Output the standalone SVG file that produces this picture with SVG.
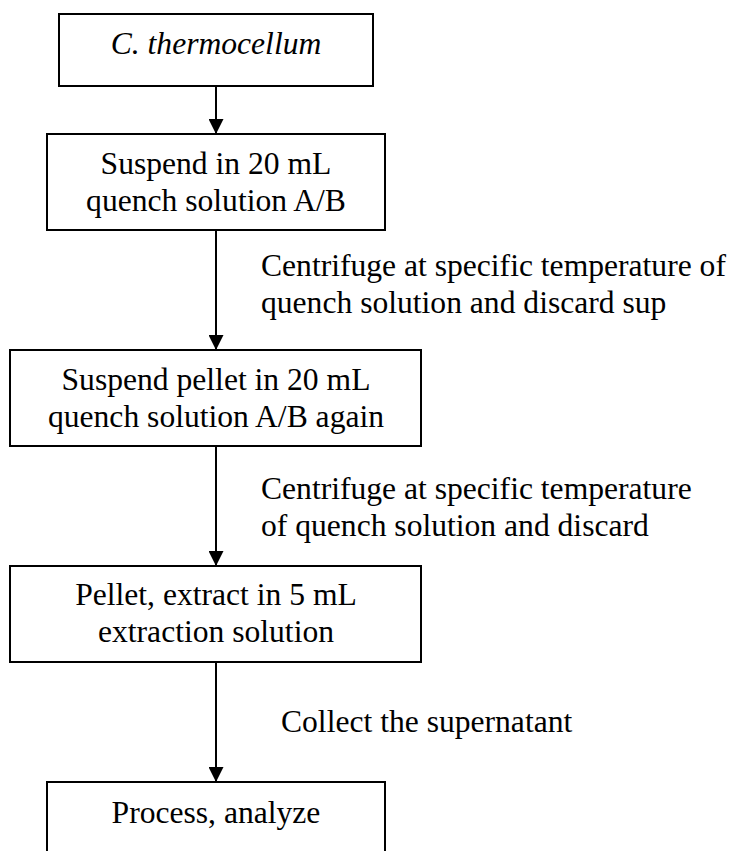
<svg xmlns="http://www.w3.org/2000/svg" width="734" height="851" viewBox="0 0 734 851">
<defs>
<marker id="ah" markerWidth="15" markerHeight="15" refX="15" refY="7.5" orient="auto" markerUnits="userSpaceOnUse">
<path d="M0,0 L15,7.5 L0,15 Z" fill="#000"/>
</marker>
<style>
.box{fill:#fff;stroke:#000;stroke-width:2}
.t{font-family:'Liberation Serif','Times New Roman',Tinos,'Nimbus Roman','DejaVu Serif',serif;font-size:31.6px;fill:#000}
.c{text-anchor:middle}
.i{font-style:italic}
.edge{stroke:#000;stroke-width:2;fill:none;marker-end:url(#ah)}
</style>
</defs>
<rect width="734" height="851" fill="#fff"/>
<g id="connectors">
<line class="edge" x1="216" y1="86" x2="216" y2="134"/>
<line class="edge" x1="216" y1="230" x2="216" y2="350"/>
<line class="edge" x1="216" y1="446" x2="216" y2="566"/>
<line class="edge" x1="216" y1="662" x2="216" y2="782"/>
<text class="t" x="261" y="276">Centrifuge at specific temperature of</text>
<text class="t" x="261" y="313">quench solution and discard sup</text>
<text class="t" x="261" y="499">Centrifuge at specific temperature</text>
<text class="t" x="261" y="536">of quench solution and discard</text>
<text class="t" x="281" y="732">Collect the supernatant</text>
</g>
<g id="n1">
<rect class="box" x="59" y="14" width="314" height="72"/>
<text class="t c i" x="216" y="54">C. thermocellum</text>
</g>
<g id="n2">
<rect class="box" x="47" y="134" width="338" height="96"/>
<text class="t c" x="216" y="174">Suspend in 20 mL</text>
<text class="t c" x="216" y="211">quench solution A/B</text>
</g>
<g id="n3">
<rect class="box" x="10" y="350" width="411" height="96"/>
<text class="t c" x="216" y="390">Suspend pellet in 20 mL</text>
<text class="t c" x="216" y="427">quench solution A/B again</text>
</g>
<g id="n4">
<rect class="box" x="10" y="566" width="411" height="96"/>
<text class="t c" x="216" y="605">Pellet, extract in 5 mL</text>
<text class="t c" x="216" y="642">extraction solution</text>
</g>
<g id="n5">
<rect class="box" x="47" y="782" width="338" height="96"/>
<text class="t c" x="216" y="823">Process, analyze</text>
</g>
</svg>
